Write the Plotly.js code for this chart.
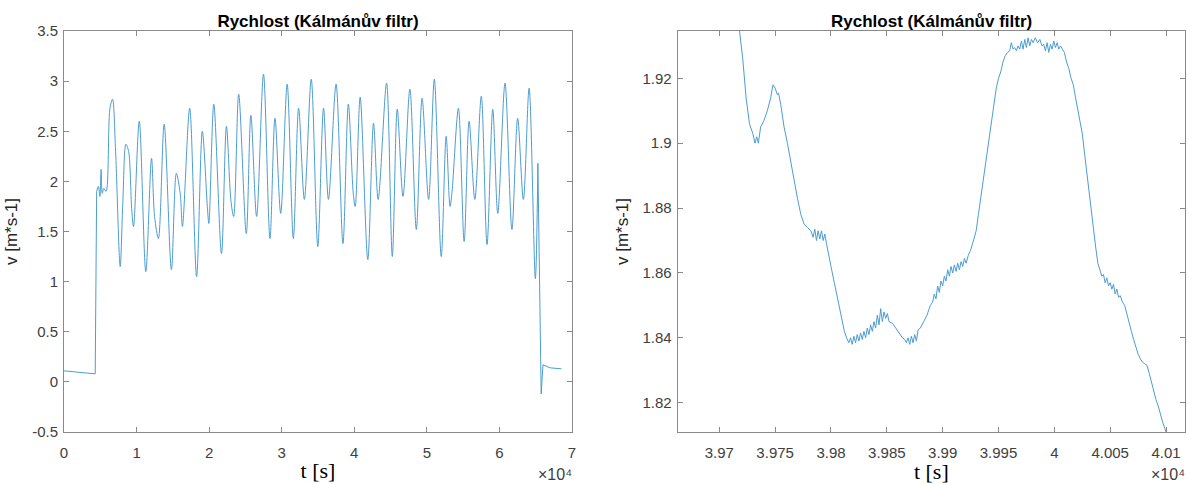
<!DOCTYPE html>
<html><head><meta charset="utf-8">
<script src="https://cdn.plot.ly/plotly-3.0.1.min.js"></script>
<style>html,body{margin:0;padding:0;background:#fff}#chart{width:1188px;height:484px}</style>
</head><body><div id="chart"></div>
<script>
// Left panel: whole record, t [s], v [m*s-1]
const leftT = [0,1700,4300,4500,4740,4950,5110,5270,5480,5800,6320,6690,7110,7740,8110,8530,8900,9320,9580,10370,
  11270,12060,12480,13010,13800,14800,15480,16010,16320,17320,18270,19060,19750,19960,20640,21700,22380,23010,23380,24070,
  25120,25750,26540,27490,28380,29070,29860,30750,31600,32330,33120,34070,34970,35760,36440,37490,38440,39180,39860,40130,
  40810,41860,42650,43290,44450,45240,45920,46710,47660,48550,49340,50240,51030,51980,52660,53190,53450,54350,55140,55820,
  56610,57500,58290,59080,59770,60770,61720,62510,63300,64090,64950,65300,65750,66000,67000,68550];
const leftV = [0.11,0.10,0.08,1.90,1.95,1.85,2.12,1.88,1.93,1.90,2.72,2.82,2.30,1.15,1.80,2.37,2.30,1.73,1.55,2.60,
  1.10,2.23,1.65,1.43,2.57,1.12,2.08,1.88,1.55,2.73,1.05,2.50,1.75,1.58,2.77,1.28,2.55,1.80,1.65,2.87,
  1.48,2.66,1.65,3.07,1.43,2.63,1.68,2.97,1.43,2.73,1.82,3.02,1.35,2.73,1.82,2.97,1.38,2.77,1.88,1.75,
  2.84,1.22,2.58,1.82,2.98,1.25,2.72,1.85,2.92,1.52,2.83,1.82,3.02,1.25,2.45,1.75,1.88,2.73,1.40,2.60,
  1.82,2.85,1.37,2.72,1.68,2.98,1.52,2.63,1.82,2.93,1.03,2.18,-0.12,0.17,0.14,0.13];

// Right panel: detail around t = 3.97e4 .. 4.01e4
const rightT = [39718,39721,39724,39727,39730,39732,39733.5,39735,39737,39740,39743,39746,39748,39750,39752,39753,39755,39758,39761,39764,
  39767,39770,39773,39776,39779,39782,39784,39785.5,39787,39788.5,39790,39791.5,39793,39794.5,39796,39798,39800,39803,39806,39809,
  39812,39814,39816,39817.5,39819,39820.5,39822,39823.5,39825,39826.5,39828,39829.5,39831,39832.5,39834,39835.5,39837,39838.5,39840,39841.5,
  39843,39844.5,39846,39847.5,39849,39850.5,39852,39855,39858,39861,39864,39866,39867.5,39869,39870.5,39872,39873.5,39875,39876.5,39878,
  39880,39883,39886,39889,39891,39892.5,39894,39895.5,39897,39898.5,39900,39901.5,39903,39904.5,39906,39907.5,39909,39910.5,39912,39913.5,
  39915,39916.5,39918,39919.5,39921,39923,39925,39928,39930,39932,39934,39936,39938,39940,39942,39944,39946,39948,39950,39952,
  39954,39956,39958,39960,39961.5,39963,39964.5,39966,39967.5,39969,39970.5,39972,39973.5,39975,39976.5,39978,39979.5,39981,39983,39985,
  39987,39989,39990.5,39992,39993.5,39995,39996.5,39998,39999.5,40001,40002.5,40004,40005.5,40007,40009,40011,40013,40015,40017,40019,
  40021,40023,40025,40027,40029,40031,40033,40035,40037,40039,40041,40042.5,40044,40045.5,40047,40048.5,40050,40051.5,40053,40054.5,
  40056,40057.5,40059,40061,40063,40065,40067,40069,40071,40073,40075,40077,40079,40081,40083,40085,40087,40089,40091,40093,
  40095,40097,40099,40101];
const rightV = [1.935,1.926,1.914,1.906,1.903,1.900,1.902,1.900,1.905,1.907,1.910,1.914,1.918,1.917,1.915,1.9155,1.912,1.905,1.900,1.894,
  1.888,1.883,1.878,1.875,1.874,1.873,1.871,1.8735,1.870,1.873,1.8705,1.873,1.870,1.872,1.869,1.866,1.862,1.857,1.852,1.846,
  1.842,1.840,1.8385,1.840,1.838,1.8405,1.8385,1.841,1.839,1.8415,1.8395,1.842,1.840,1.843,1.841,1.844,1.842,1.845,1.843,1.847,
  1.844,1.849,1.845,1.848,1.846,1.8475,1.845,1.8445,1.843,1.8415,1.840,1.8395,1.8385,1.840,1.838,1.8405,1.8385,1.841,1.839,1.8425,
  1.843,1.845,1.847,1.850,1.851,1.8535,1.852,1.856,1.854,1.8575,1.856,1.859,1.8575,1.861,1.859,1.862,1.860,1.8625,1.8605,1.863,
  1.861,1.8635,1.862,1.8645,1.863,1.8655,1.867,1.8705,1.873,1.878,1.883,1.887,1.893,1.898,1.903,1.908,1.912,1.917,1.920,1.922,
  1.925,1.927,1.928,1.9285,1.931,1.929,1.9295,1.9285,1.930,1.929,1.9315,1.929,1.932,1.9295,1.9325,1.930,1.932,1.931,1.9325,1.931,
  1.932,1.930,1.9305,1.9285,1.931,1.928,1.9305,1.929,1.9315,1.9295,1.931,1.929,1.930,1.929,1.928,1.925,1.923,1.920,1.918,1.914,
  1.910,1.906,1.903,1.897,1.891,1.885,1.879,1.874,1.868,1.863,1.861,1.859,1.8595,1.857,1.8585,1.856,1.857,1.855,1.8565,1.8535,
  1.855,1.8525,1.853,1.851,1.850,1.847,1.844,1.842,1.8395,1.837,1.835,1.8335,1.8325,1.832,1.8315,1.829,1.826,1.8235,1.821,1.819,
  1.816,1.814,1.812,1.810];

const leftXTickVals = [0,10000,20000,30000,40000,50000,60000,70000];
const leftXTickText = ['0','1','2','3','4','5','6','7'];
const leftYTickVals = [-0.5,0,0.5,1,1.5,2,2.5,3,3.5];
const leftYTickText = ['-0.5','0','0.5','1','1.5','2','2.5','3','3.5'];
const rightXTickVals = [39700,39750,39800,39850,39900,39950,40000,40050,40100];
const rightXTickText = ['3.97','3.975','3.98','3.985','3.99','3.995','4','4.005','4.01'];
const rightYTickVals = [1.82,1.84,1.86,1.88,1.9,1.92];
const rightYTickText = ['1.82','1.84','1.86','1.88','1.9','1.92'];

const titleText = 'Rychlost (Kálmánův filtr)';
const yLabel = 'v [m*s-1]';
const xLabel = 't [s]';
const exponentText = '×10⁴';

const lineColor = '#4c9dd0';
const iJump = leftT.indexOf(4500);
const iSpike = leftT.indexOf(65300);

const traces = [
  {x: leftT.slice(0, iJump + 1), y: leftV.slice(0, iJump + 1), mode: 'lines', line: {color: lineColor, width: 1}, xaxis: 'x', yaxis: 'y'},
  {x: leftT.slice(iJump, iSpike + 1), y: leftV.slice(iJump, iSpike + 1), mode: 'lines', line: {color: lineColor, width: 1, shape: 'spline', smoothing: 0.9}, xaxis: 'x', yaxis: 'y'},
  {x: leftT.slice(iSpike), y: leftV.slice(iSpike), mode: 'lines', line: {color: lineColor, width: 1}, xaxis: 'x', yaxis: 'y'},
  {x: rightT, y: rightV, mode: 'lines', line: {color: lineColor, width: 1}, xaxis: 'x2', yaxis: 'y2'}
];

const sans = 'Liberation Sans, Arial, sans-serif';
const serif = '"Liberation Serif", "DejaVu Serif", serif';

const axCommon = {
  showline: true, linecolor: '#8a8a8a', linewidth: 1, mirror: 'ticks',
  ticks: 'inside', ticklen: 5, tickcolor: '#8a8a8a', tickwidth: 1,
  showgrid: false, zeroline: false, automargin: false,
  tickfont: {family: sans, size: 15, color: '#404040'},
  tickmode: 'array', fixedrange: true
};
const xTitle = {text: xLabel, font: {family: serif, size: 22, color: '#000'}, standoff: 2};
const yTitleL = {text: yLabel, font: {family: sans, size: 17, color: '#262626'}, standoff: 10};
const yTitleR = {text: yLabel, font: {family: sans, size: 17, color: '#262626'}, standoff: 9};

const W = 1188, H = 484;
const px = v => v / W;
const py = v => 1 - v / H;
const dom = [py(432), py(31)];
const titleFont = {family: sans, size: 17, color: '#000', weight: 'bold'};

const layout = {
  width: W, height: H, showlegend: false,
  margin: {l: 0, r: 0, t: 0, b: 0},
  paper_bgcolor: '#fff', plot_bgcolor: '#fff',
  title: {text: titleText, xref: 'paper', yref: 'paper', x: px(318), y: py(21), xanchor: 'center', yanchor: 'middle', font: titleFont},
  xaxis: Object.assign({}, axCommon, {domain: [px(64), px(572)], range: [0, 70000], tickvals: leftXTickVals, ticktext: leftXTickText, anchor: 'y', ticklabelstandoff: 7, title: xTitle}),
  yaxis: Object.assign({}, axCommon, {domain: dom, range: [-0.5, 3.5], tickvals: leftYTickVals, ticktext: leftYTickText, anchor: 'x', ticklabelstandoff: 2, title: yTitleL}),
  xaxis2: Object.assign({}, axCommon, {domain: [px(677.7), px(1185)], range: [39662.75, 40117], tickvals: rightXTickVals, ticktext: rightXTickText, anchor: 'y2', ticklabelstandoff: 7, title: xTitle}),
  yaxis2: Object.assign({}, axCommon, {domain: dom, range: [1.81097, 1.9346], tickvals: rightYTickVals, ticktext: rightYTickText, anchor: 'x2', ticklabelstandoff: 2, title: yTitleR}),
  annotations: [
    {text: titleText, xref: 'paper', yref: 'paper', x: px(931), y: py(21), xanchor: 'center', yanchor: 'middle', showarrow: false, font: titleFont},
    {text: exponentText, xref: 'paper', yref: 'paper', x: px(574), y: py(474), xanchor: 'right', yanchor: 'middle', showarrow: false,
     font: {family: sans, size: 16, color: '#404040'}},
    {text: exponentText, xref: 'paper', yref: 'paper', x: px(1187), y: py(474), xanchor: 'right', yanchor: 'middle', showarrow: false,
     font: {family: sans, size: 16, color: '#404040'}}
  ]
};

Plotly.newPlot('chart', traces, layout, {staticPlot: true, displayModeBar: false});
</script></body></html>
